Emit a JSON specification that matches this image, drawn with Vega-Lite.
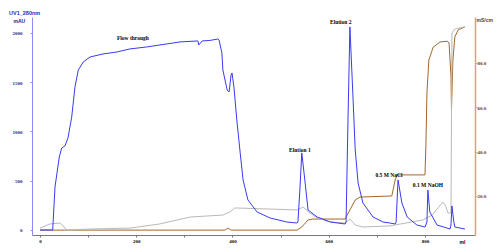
{
  "$schema": "https://vega.github.io/schema/vega-lite/v6.json",
  "width": 443,
  "height": 218,
  "autosize": "none",
  "padding": {"left": 32, "right": 25, "top": 17, "bottom": 17},
  "background": "white",
  "title": {"text": "UV1_280nm", "anchor": "start", "frame": "group", "dx": -23, "offset": 1, "fontSize": 5.5, "font": "Liberation Sans", "fontWeight": "bold", "color": "#2828c8"},
  "config": {
    "view": {"stroke": null},
    "axis": {"grid": false, "labelFont": "Liberation Serif", "labelFontWeight": "bold", "labelFontSize": 5, "titleFont": "Liberation Sans", "titleFontWeight": "bold", "titleFontSize": 5, "tickSize": 2}
  },
  "datasets": {
    "uv": [
      {"ml": 0, "mAU": 0}, {"ml": 26.4, "mAU": 0}, {"ml": 31.2, "mAU": 437}, {"ml": 40.1, "mAU": 741}, {"ml": 45.1, "mAU": 832},
      {"ml": 51.9, "mAU": 853}, {"ml": 58.2, "mAU": 934}, {"ml": 65.9, "mAU": 1147}, {"ml": 72.7, "mAU": 1452}, {"ml": 79.6, "mAU": 1624},
      {"ml": 90, "mAU": 1706}, {"ml": 104, "mAU": 1756}, {"ml": 131, "mAU": 1787}, {"ml": 160, "mAU": 1807}, {"ml": 187, "mAU": 1838},
      {"ml": 222, "mAU": 1858}, {"ml": 291, "mAU": 1909}, {"ml": 328, "mAU": 1919}, {"ml": 330, "mAU": 1878}, {"ml": 337, "mAU": 1919},
      {"ml": 353, "mAU": 1924}, {"ml": 370, "mAU": 1939}, {"ml": 372, "mAU": 1929}, {"ml": 378, "mAU": 1797}, {"ml": 380, "mAU": 1624},
      {"ml": 389, "mAU": 1421}, {"ml": 393, "mAU": 1401}, {"ml": 397, "mAU": 1574}, {"ml": 399, "mAU": 1594}, {"ml": 403, "mAU": 1452},
      {"ml": 409, "mAU": 1117}, {"ml": 416, "mAU": 782}, {"ml": 422, "mAU": 508}, {"ml": 432, "mAU": 305}, {"ml": 451, "mAU": 183},
      {"ml": 478, "mAU": 122}, {"ml": 513, "mAU": 81}, {"ml": 534, "mAU": 71}, {"ml": 536, "mAU": 81}, {"ml": 540, "mAU": 406},
      {"ml": 544, "mAU": 782}, {"ml": 551, "mAU": 477}, {"ml": 557, "mAU": 203}, {"ml": 576, "mAU": 132}, {"ml": 603, "mAU": 81},
      {"ml": 634, "mAU": 61}, {"ml": 636, "mAU": 81}, {"ml": 640, "mAU": 1117}, {"ml": 644, "mAU": 2061}, {"ml": 650, "mAU": 1391},
      {"ml": 655, "mAU": 812}, {"ml": 661, "mAU": 477}, {"ml": 671, "mAU": 274}, {"ml": 692, "mAU": 132}, {"ml": 713, "mAU": 81},
      {"ml": 727, "mAU": 71}, {"ml": 738, "mAU": 61}, {"ml": 740, "mAU": 81}, {"ml": 744, "mAU": 508}, {"ml": 752, "mAU": 274},
      {"ml": 763, "mAU": 132}, {"ml": 783, "mAU": 51}, {"ml": 800, "mAU": 30}, {"ml": 804, "mAU": 81}, {"ml": 806, "mAU": 406},
      {"ml": 810, "mAU": 183}, {"ml": 825, "mAU": 51}, {"ml": 852, "mAU": 10}, {"ml": 854, "mAU": 51}, {"ml": 856, "mAU": 244},
      {"ml": 860, "mAU": 81}, {"ml": 862, "mAU": 30}, {"ml": 883, "mAU": 10}
    ],
    "right": [
      {"series": "cond", "ml": 0, "v": 4.6}, {"series": "cond", "ml": 384, "v": 4.6}, {"series": "cond", "ml": 391, "v": 5.5}, {"series": "cond", "ml": 397, "v": 4.6},
      {"series": "cond", "ml": 534, "v": 4.6}, {"series": "cond", "ml": 544, "v": 6.0}, {"series": "cond", "ml": 557, "v": 9.2}, {"series": "cond", "ml": 567, "v": 9.6},
      {"series": "cond", "ml": 634, "v": 9.6}, {"series": "cond", "ml": 644, "v": 13.7}, {"series": "cond", "ml": 655, "v": 18.2}, {"series": "cond", "ml": 665, "v": 19.5},
      {"series": "cond", "ml": 731, "v": 20.0}, {"series": "cond", "ml": 738, "v": 27.2}, {"series": "cond", "ml": 742, "v": 29.5}, {"series": "cond", "ml": 800, "v": 29.5},
      {"series": "cond", "ml": 802, "v": 43.9}, {"series": "cond", "ml": 804, "v": 66.4}, {"series": "cond", "ml": 808, "v": 81.3}, {"series": "cond", "ml": 817, "v": 87.1},
      {"series": "cond", "ml": 831, "v": 89.4}, {"series": "cond", "ml": 846, "v": 89.8}, {"series": "cond", "ml": 850, "v": 89.0}, {"series": "cond", "ml": 854, "v": 73.7},
      {"series": "cond", "ml": 855, "v": 58.8}, {"series": "cond", "ml": 858, "v": 81.3}, {"series": "cond", "ml": 862, "v": 91.7}, {"series": "cond", "ml": 869, "v": 94.9},
      {"series": "cond", "ml": 883, "v": 96.3},
      {"series": "other", "ml": 0, "v": 5.5}, {"series": "other", "ml": 21, "v": 7.4}, {"series": "other", "ml": 42, "v": 7.8}, {"series": "other", "ml": 48, "v": 6.5},
      {"series": "other", "ml": 56, "v": 4.6}, {"series": "other", "ml": 104, "v": 5.1}, {"series": "other", "ml": 187, "v": 5.5}, {"series": "other", "ml": 249, "v": 7.4},
      {"series": "other", "ml": 312, "v": 10.5}, {"series": "other", "ml": 380, "v": 11.4}, {"series": "other", "ml": 395, "v": 12.8}, {"series": "other", "ml": 405, "v": 14.6},
      {"series": "other", "ml": 534, "v": 13.7}, {"series": "other", "ml": 547, "v": 15.0}, {"series": "other", "ml": 561, "v": 12.3}, {"series": "other", "ml": 576, "v": 10.1},
      {"series": "other", "ml": 603, "v": 8.3}, {"series": "other", "ml": 634, "v": 7.8}, {"series": "other", "ml": 644, "v": 9.6}, {"series": "other", "ml": 655, "v": 6.9},
      {"series": "other", "ml": 671, "v": 6.0}, {"series": "other", "ml": 727, "v": 6.5}, {"series": "other", "ml": 796, "v": 9.2}, {"series": "other", "ml": 815, "v": 11.4},
      {"series": "other", "ml": 827, "v": 14.6}, {"series": "other", "ml": 837, "v": 17.3}, {"series": "other", "ml": 842, "v": 15.9}, {"series": "other", "ml": 848, "v": 12.3},
      {"series": "other", "ml": 854, "v": 12.3}, {"series": "other", "ml": 856, "v": 93.5}, {"series": "other", "ml": 862, "v": 95.3}, {"series": "other", "ml": 883, "v": 96.3}
    ],
    "notes": [
      {"ml": 193, "mAU": 1949, "label": "Flow through"},
      {"ml": 540, "mAU": 812, "label": "Elution 1"},
      {"ml": 625, "mAU": 2112, "label": "Elution 2"},
      {"ml": 725, "mAU": 558, "label": "0.5 M NaCl"},
      {"ml": 806, "mAU": 457, "label": "0.1 M NaOH"}
    ]
  },
  "layer": [
    {
      "data": {"name": "right"},
      "mark": {"type": "line", "strokeWidth": 1, "clip": true},
      "encoding": {
        "x": {"field": "ml", "type": "quantitative", "scale": {"domain": [-16.6, 903.9], "nice": false, "zero": false},
          "axis": {"values": [0, 100, 200, 300, 400, 500, 600, 700, 800], "labelExpr": "datum.value % 200 == 0 ? datum.label : ''", "format": "d", "labelColor": "#000000", "domainColor": "#7a7a7a", "tickColor": "#7a7a7a", "labelPadding": 1,
            "title": "ml", "titleAngle": 0, "titleX": 430, "titleY": 6, "titleAlign": "center", "titleBaseline": "middle", "titleColor": "#000000"}},
        "y": {"field": "v", "type": "quantitative", "scale": {"domain": [2.4, 100.7], "nice": false, "zero": false},
          "axis": {"orient": "right", "values": [20, 40, 60, 80], "format": ".1f", "labelColor": "#5a3a18", "domainColor": "#cfa57c", "domainWidth": 1.5, "tickColor": "#cfa57c", "labelPadding": 0,
            "title": "mS/cm", "titleAngle": 0, "titleX": 1, "titleY": 2, "titleAlign": "left", "titleBaseline": "middle", "titleColor": "#5a3a18"}},
        "color": {"field": "series", "type": "nominal", "scale": {"domain": ["cond", "other"], "range": ["#a0682c", "#b9b9b9"]}, "legend": null},
        "order": {"field": "ml", "type": "quantitative"}
      }
    },
    {
      "layer": [
        {
          "data": {"name": "uv"},
          "mark": {"type": "line", "color": "#3a3af2", "strokeWidth": 1, "clip": true},
          "encoding": {
            "x": {"field": "ml", "type": "quantitative"},
            "y": {"field": "mAU", "type": "quantitative", "scale": {"domain": [-50.8, 2162], "nice": false, "zero": false},
              "axis": {"orient": "left", "values": [0, 250, 500, 750, 1000, 1250, 1500, 1750, 2000], "labelExpr": "datum.value % 500 == 0 ? datum.label : ''", "format": "d", "labelColor": "#23238f", "domainColor": "#8c8cf5", "tickColor": "#8c8cf5", "labelPadding": 8,
                "title": "mAU", "titleAngle": 0, "titleX": -19, "titleY": 3, "titleAlign": "left", "titleBaseline": "middle", "titleColor": "#23238f"}}
          }
        },
        {
          "data": {"name": "notes"},
          "mark": {"type": "text", "font": "Liberation Serif", "fontWeight": "bold", "fontSize": 5.5, "color": "#000000"},
          "encoding": {
            "x": {"field": "ml", "type": "quantitative"},
            "y": {"field": "mAU", "type": "quantitative"},
            "text": {"field": "label"}
          }
        }
      ]
    }
  ],
  "resolve": {"scale": {"y": "independent"}}
}
